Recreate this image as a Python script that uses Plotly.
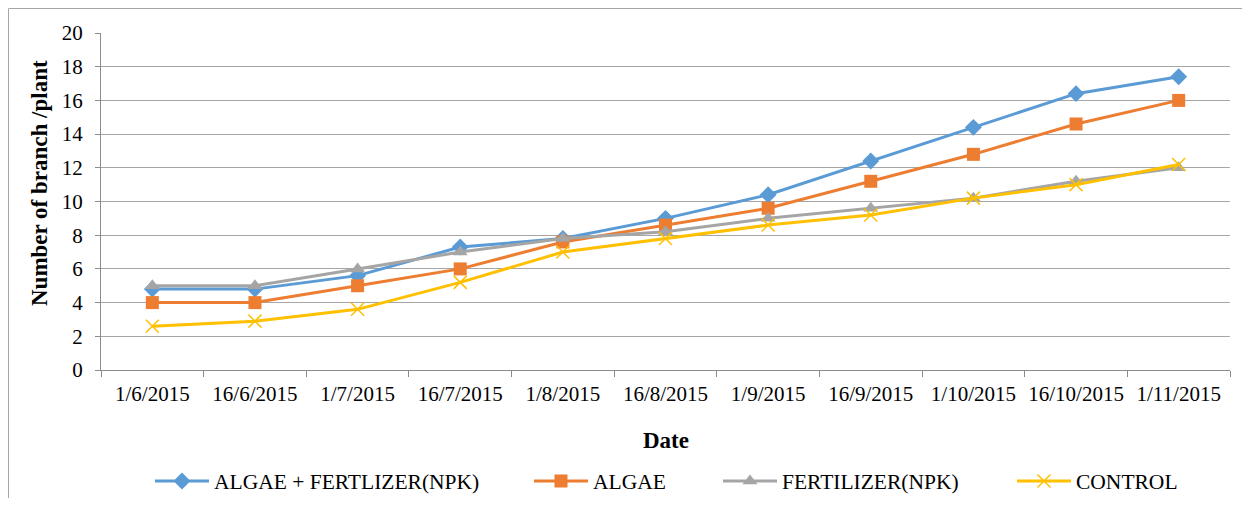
import plotly.graph_objects as go

dates = ["1/6/2015", "16/6/2015", "1/7/2015", "16/7/2015", "1/8/2015", "16/8/2015",
         "1/9/2015", "16/9/2015", "1/10/2015", "16/10/2015", "1/11/2015"]
algae_npk = [4.8, 4.8, 5.6, 7.3, 7.8, 9.0, 10.4, 12.4, 14.4, 16.4, 17.4]
algae = [4.0, 4.0, 5.0, 6.0, 7.6, 8.6, 9.6, 11.2, 12.8, 14.6, 16.0]
npk = [5.0, 5.0, 6.0, 7.0, 7.8, 8.2, 9.0, 9.6, 10.2, 11.2, 12.0]
control = [2.6, 2.9, 3.6, 5.2, 7.0, 7.8, 8.6, 9.2, 10.2, 11.0, 12.2]

names = ["ALGAE + FERTLIZER(NPK)", "ALGAE", "FERTILIZER(NPK)", "CONTROL"]
colors = ["#5B9BD5", "#ED7D31", "#A5A5A5", "#FFC000"]
symbols = ["diamond", "square", "triangle-up", "x-thin"]
sizes = [13, 13, 13, 13]
series = [algae_npk, algae, npk, control]

FONT = "Liberation Serif"

# html body margin offset
OFF = 8
W, H = 1250 - 2 * OFF, 506 - 2 * OFF
# plot area in page coordinates
PL, PR, PT, PB = 101, 1230, 33, 370
L = PL - OFF
R = W - (PR - OFF)
T = PT - OFF
B = H - (PB - OFF)
pw, ph = W - L - R, H - T - B


def px_x(x):
    return (x - OFF - L) / pw


def px_y(y):
    return (H - B - (y - OFF)) / ph


def cx(x):
    return (x - OFF) / W


def cy(y):
    return (H - (y - OFF)) / H


legend_ids = ["legend", "legend2", "legend3", "legend4"]
legend_x = [158, 537, 726, 1020]

fig = go.Figure()
for name, vals, col, sym, sz, lid in zip(names, series, colors, symbols, sizes, legend_ids):
    marker = dict(symbol=sym, size=sz, color=col)
    if sym == "x-thin":
        marker["line"] = dict(color=col, width=1.5)
    fig.add_trace(go.Scatter(x=dates, y=vals, name=name, mode="lines+markers",
                             line=dict(color=col, width=3), marker=marker, legend=lid))

legends = {}
for lid, lx in zip(legend_ids, legend_x):
    legends[lid] = dict(orientation="h", xref="container", yref="container",
                        x=cx(lx - 8), xanchor="left",
                        y=cy(481), yanchor="middle", bgcolor="rgba(0,0,0,0)",
                        font=dict(family=FONT, size=21.5, color="black"), itemwidth=54)

fig.update_layout(
    width=W, height=H,
    margin=dict(l=L, r=R, t=T, b=B, autoexpand=False),
    paper_bgcolor="white", plot_bgcolor="white",
    font=dict(family=FONT, size=21, color="black"),
    showlegend=True,
    xaxis=dict(type="category", range=[-0.5, 10.5], showgrid=False,
               showline=True, linecolor="#8c8c8c", linewidth=1,
               ticks="outside", tickson="boundaries", ticklen=6, tickcolor="#8c8c8c",
               tickangle=0, ticklabelstandoff=5,
               tickfont=dict(family=FONT, size=21, color="black")),
    yaxis=dict(range=[0, 20], dtick=2, showgrid=True, gridcolor="#a6a6a6", gridwidth=1,
               showline=True, linecolor="#8c8c8c", linewidth=1, zeroline=False,
               ticks="outside", ticklen=5, tickcolor="#8c8c8c", ticklabelstandoff=8,
               tickfont=dict(family=FONT, size=21, color="black")),
    annotations=[
        dict(text="<b>Date</b>", x=0.5, y=px_y(440), xref="paper", yref="paper",
             xanchor="center", yanchor="middle", showarrow=False,
             font=dict(family=FONT, size=23, color="black")),
        dict(text="<b>Number of branch /plant</b>", x=px_x(39), y=px_y(183),
             xref="paper", yref="paper", xanchor="center", yanchor="middle",
             textangle=-90, showarrow=False, font=dict(family=FONT, size=23, color="black")),
    ],
    shapes=[dict(type="rect", xref="paper", yref="paper",
                 x0=px_x(OFF + 0.5), x1=px_x(1260), y0=px_y(520), y1=px_y(OFF + 0.5),
                 line=dict(color="#a6a6a6", width=1), layer="below")],
    **legends,
)

fig.write_html("out.html")
